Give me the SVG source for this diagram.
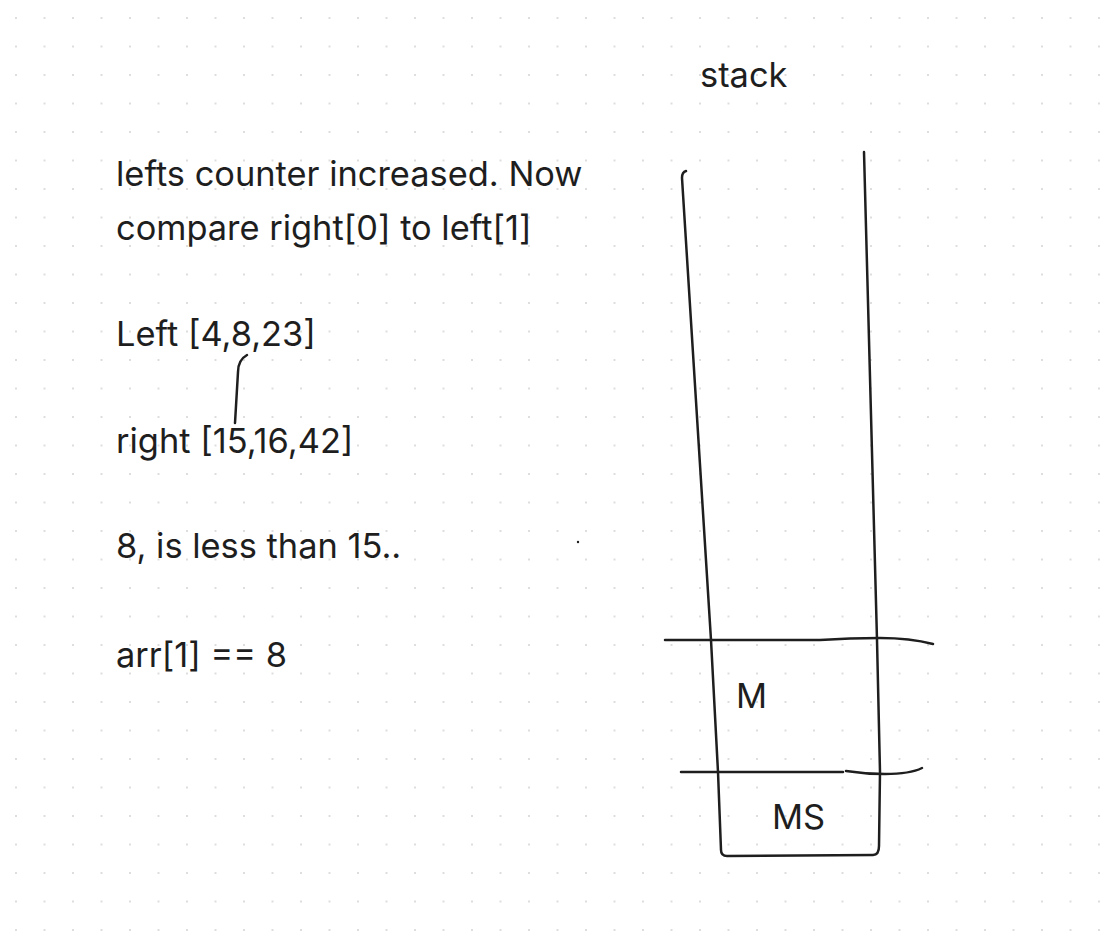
<svg xmlns="http://www.w3.org/2000/svg" width="1104" height="932" viewBox="0 0 1104 932">
<defs>
<pattern id="grid" x="16" y="18" width="28.5" height="28.5" patternUnits="userSpaceOnUse">
<rect x="-0.75" y="-0.75" width="1.5" height="1.5" fill="#c4c4c4"/>
<rect x="27.75" y="-0.75" width="1.5" height="1.5" fill="#c4c4c4"/>
<rect x="-0.75" y="27.75" width="1.5" height="1.5" fill="#c4c4c4"/>
<rect x="27.75" y="27.75" width="1.5" height="1.5" fill="#c4c4c4"/>
</pattern>
<style>
.t{font-family:Inter,"Liberation Sans",sans-serif;font-size:34.4px;fill:#1e1e1e}
.s{fill:none;stroke:#1e1e1e;stroke-width:2.5;stroke-linecap:round;stroke-linejoin:round}
</style>
</defs>
<rect width="1104" height="932" fill="#ffffff"/>
<rect width="1104" height="932" fill="url(#grid)"/>
<g id="notes">
<text class="t" x="116" y="186">lefts counter increased. Now</text>
<text class="t" x="116" y="240">compare right[0] to left[1]</text>
<text class="t" x="116" y="346">Left [4,8,23]</text>
<text class="t" x="116" y="453">right [15,16,42]</text>
<text class="t" x="116" y="558">8, is less than 15..</text>
<text class="t" x="116" y="667">arr[1] == 8</text>
</g>
<g id="stack">
<text class="t" x="700" y="87">stack</text>
<path class="s" d="M686,171 Q682,172 682,178 L711,640 L718,772 L721,850 Q721,856 727,856 L873,855 Q879,855 879,846 L880,772 L877,640 L864,152"/>
<path class="s" d="M665,640 L820,640 Q850,638 880,638 Q910,638 933,644"/>
<path class="s" d="M681,772 L843,772"/>
<path class="s" d="M846,771 Q865,774 885,774 Q910,774 922,768"/>
</g>
<g id="cell-m"><text class="t" x="736" y="708">M</text></g>
<g id="cell-ms"><text class="t" x="772" y="829">MS</text></g>
<g id="connectors">
<path class="s" d="M247,355 Q238,360 238,372 L235,423"/>
</g>
<circle cx="578" cy="542" r="1.2" fill="#1e1e1e"/>
</svg>
